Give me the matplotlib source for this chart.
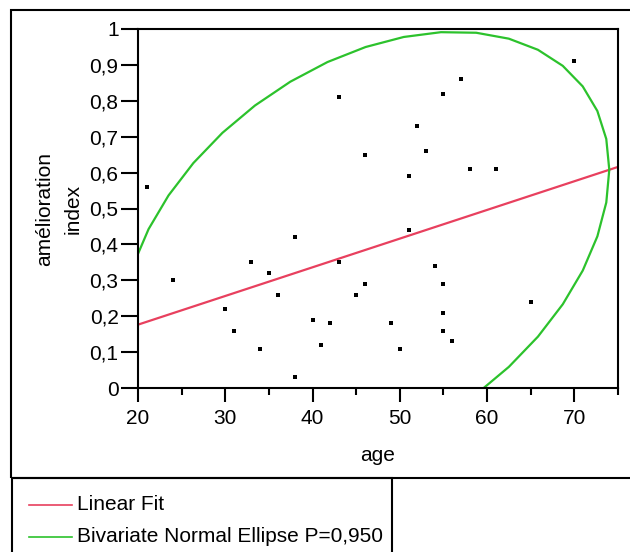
import numpy as np
import matplotlib
matplotlib.use("Agg")
import matplotlib.pyplot as plt
from matplotlib.patches import Rectangle
from matplotlib.ticker import MultipleLocator, FuncFormatter

plt.rcParams['font.family'] = ['Liberation Sans', 'DejaVu Sans']

# data
age = [21, 24, 30, 31, 33, 34, 35, 36, 38, 38, 40, 41, 42, 43, 43, 45, 46, 46,
       49, 50, 51, 51, 52, 53, 54, 55, 55, 55, 55, 56, 57, 58, 61, 65, 70]
index = [0.56, 0.30, 0.22, 0.16, 0.35, 0.11, 0.32, 0.26, 0.42, 0.03, 0.19, 0.12,
         0.18, 0.81, 0.35, 0.26, 0.65, 0.29, 0.18, 0.11, 0.59, 0.44, 0.73, 0.66,
         0.34, 0.82, 0.29, 0.21, 0.16, 0.13, 0.86, 0.61, 0.61, 0.24, 0.91]
x_ticks = [20, 30, 40, 50, 60, 70]
y_ticks = [0, 0.1, 0.2, 0.3, 0.4, 0.5, 0.6, 0.7, 0.8, 0.9, 1]
legend_labels = ["Linear Fit", "Bivariate Normal Ellipse P=0,950"]

red = '#e8405e'
green = '#2cc22c'

x = np.array(age)
y = np.array(index)

fig = plt.figure(figsize=(6.3, 5.52), dpi=100)
W, H = 630, 552
ax = fig.add_axes([138 / W, 1 - 388 / H, 480 / W, 359 / H])

# linear fit
slope, icpt = np.polyfit(x, y, 1)
xx = np.array([20, 75])
ax.plot(xx, icpt + slope * xx, color=red, lw=1.6, zorder=2)

# bivariate normal ellipse, 95%
mu = np.array([x.mean(), y.mean()])
cov = np.cov(x, y)
vals, vecs = np.linalg.eigh(cov)
r = np.sqrt(5.991)
t = np.linspace(0, 2 * np.pi, 41)
circ = np.vstack([np.cos(t), np.sin(t)])
ell = vecs @ (np.sqrt(vals)[:, None] * circ) * r + mu[:, None]
ax.plot(ell[0], ell[1], color=green, lw=1.6, zorder=2)

ax.scatter(x, y, s=7, marker='s', color='black', lw=0, zorder=3)

ax.set_xlim(20, 75)
ax.set_ylim(0, 1)
ax.set_xticks(x_ticks)
ax.xaxis.set_minor_locator(MultipleLocator(5))
ax.set_yticks(y_ticks)
ax.yaxis.set_major_formatter(FuncFormatter(lambda v, p: ('%g' % round(v, 1)).replace('.', ',')))
ax.tick_params(axis='both', direction='out', labelsize=15, width=1.5, color='black')
ax.tick_params(axis='x', length=10, pad=5)
ax.tick_params(axis='y', length=12, pad=2)
ax.tick_params(axis='x', which='minor', length=5, width=1.5)
for s in ax.spines.values():
    s.set_linewidth(1.5)
ax.set_xlabel("age", fontsize=15, labelpad=13)
ax.set_ylabel("amélioration\nindex", fontsize=15, labelpad=5, linespacing=1.6)

# outer frame and legend box
fig.add_artist(Rectangle((11 / W, 1 - 478 / H), 640 / W, 468 / H, transform=fig.transFigure,
                         fill=False, lw=1.5, ec='black'))
fig.add_artist(Rectangle((12 / W, -0.05), 380 / W, (1 - 478 / H) + 0.05, transform=fig.transFigure,
                         fill=False, lw=1.5, ec='black'))
for i, (lab, col) in enumerate(zip(legend_labels, [red, green])):
    yy = 1 - (505 + 32 * i) / H
    fig.add_artist(plt.Line2D([29 / W, 72 / W], [yy, yy], transform=fig.transFigure,
                              color=col, lw=1.2))
    fig.text(77 / W, yy, lab, fontsize=15, va='center', ha='left')

fig.savefig("out.png", dpi=100)
